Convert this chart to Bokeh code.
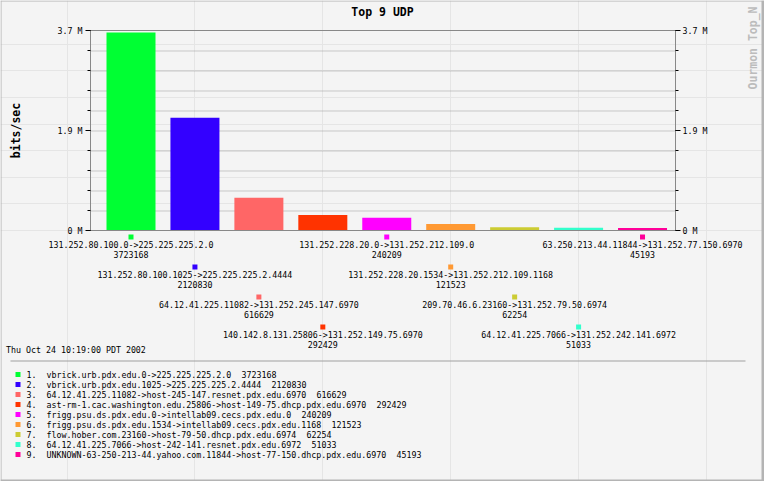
import math
from bokeh.plotting import figure
from bokeh.models import ColumnDataSource, Range1d, FixedTicker, LinearAxis
from bokeh.core.properties import value
from bokeh.embed import file_html
from bokeh.resources import INLINE

# ---------------- data ----------------
chart_title = "Top 9 UDP"
y_label = "bits/sec"
side_note = "Ourmon Top_N"
timestamp = "Thu Oct 24 10:19:00 PDT 2002"

flows = [
    "131.252.80.100.0->225.225.225.2.0",
    "131.252.80.100.1025->225.225.225.2.4444",
    "64.12.41.225.11082->131.252.245.147.6970",
    "140.142.8.131.25806->131.252.149.75.6970",
    "131.252.228.20.0->131.252.212.109.0",
    "131.252.228.20.1534->131.252.212.109.1168",
    "209.70.46.6.23160->131.252.79.50.6974",
    "64.12.41.225.7066->131.252.242.141.6972",
    "63.250.213.44.11844->131.252.77.150.6970",
]
hosts = [
    "vbrick.urb.pdx.edu.0->225.225.225.2.0",
    "vbrick.urb.pdx.edu.1025->225.225.225.2.4444",
    "64.12.41.225.11082->host-245-147.resnet.pdx.edu.6970",
    "ast-rm-1.cac.washington.edu.25806->host-149-75.dhcp.pdx.edu.6970",
    "frigg.psu.ds.pdx.edu.0->intellab09.cecs.pdx.edu.0",
    "frigg.psu.ds.pdx.edu.1534->intellab09.cecs.pdx.edu.1168",
    "flow.hober.com.23160->host-79-50.dhcp.pdx.edu.6974",
    "64.12.41.225.7066->host-242-141.resnet.pdx.edu.6972",
    "UNKNOWN-63-250-213-44.yahoo.com.11844->host-77-150.dhcp.pdx.edu.6970",
]
bits = [3723168, 2120830, 616629, 292429, 240209, 121523, 62254, 51033, 45193]
colors = ["#00ff33", "#3300ff", "#ff6666", "#ff3300", "#ff00ff",
          "#ff9933", "#cccc33", "#33ffcc", "#ff0099"]
y_max = 3760000
y_ticks = [0, 1880000, 3760000]
y_tick_labels = ["0 M", "1.9 M", "3.7 M"]

# ---------------- layout constants (pixels) ----------------
W, H = 764, 481
PL, PR, PT, PB = 90, 675, 30, 230      # plot area inside the canvas
BG = "#f4f4f4"
FRAME = "#888888"
MONO = "DejaVu Sans Mono"
SMALL = "8.3px"
BIG = "11.5px"

n = len(bits)
idx = list(range(1, n + 1))
slot_px = 63.94
first_center_px = 130.5
bar_w = 49 / slot_px

def px_to_x(px):
    return 1 + (px - first_center_px) / slot_px

def px_to_y(py):
    return (PB - py) / (PB - PT) * y_max

x_left, x_right = px_to_x(PL), px_to_x(PR)
half_px = y_max / (PB - PT) * 0.5

p = figure(width=W, height=H, output_backend="svg", toolbar_location=None,
           x_range=Range1d(px_to_x(0), px_to_x(W)),
           y_range=Range1d(px_to_y(H), px_to_y(0)),
           x_axis_location=None, y_axis_location=None,
           min_border=0, min_border_left=0, min_border_right=0,
           min_border_top=0, min_border_bottom=0,
           background_fill_color=BG, border_fill_color=BG,
           outline_line_color=None)
p.title.visible = False
p.extra_x_ranges = {"px": Range1d(0, W)}
p.extra_y_ranges = {"px": Range1d(H, 0)}
PX = dict(x_range_name="px", y_range_name="px")

# outer gray frame of the image
p.quad(left=[0, 0, 761, 0], right=[1, W, W, W], top=[0, 0, 0, 479],
       bottom=[H, 1, H, H], fill_color="#b4b4b4", line_color=None, **PX)

# dotted grid (drawn on pixel rows)
minor = [y_max * k / 10 for k in range(1, 10)]
grid_y = [m - half_px for m in minor]
p.segment(x0=[x_left] * len(minor), x1=[x_right] * len(minor), y0=grid_y, y1=grid_y,
          line_color="#9a9a9a", line_width=1, line_dash="1 1")

# bars
src = ColumnDataSource(dict(x=idx, bits=bits, color=colors))
p.vbar(x="x", top="bits", bottom=0, width=bar_w, fill_color="color",
       line_color=None, source=src)

# plot-area box
p.quad(left=[x_left], right=[x_right], bottom=[0], top=[y_max],
       fill_color=None, line_color=FRAME, line_width=1)

def make_axis(loc, standoff):
    ax = LinearAxis(fixed_location=loc, bounds=(0, y_max))
    ax.ticker = FixedTicker(ticks=y_ticks, minor_ticks=[0] + minor + [y_max])
    ax.major_label_overrides = dict(zip(y_ticks, y_tick_labels))
    ax.axis_line_color = FRAME
    ax.major_tick_line_color = "black"
    ax.minor_tick_line_color = "black"
    ax.major_tick_out = 5
    ax.major_tick_in = 0
    ax.minor_tick_out = 3
    ax.minor_tick_in = 0
    ax.major_label_standoff = standoff
    ax.major_label_text_font = MONO
    ax.major_label_text_font_size = SMALL
    ax.major_label_text_color = "black"
    return ax

p.add_layout(make_axis(x_left, 3), "left")
p.add_layout(make_axis(x_right, 2), "right")

# labels under the bars (4 staggered rows)
rows = [i % 4 for i in range(n)]
lab_src = ColumnDataSource(dict(
    x=idx, flow=flows, val=[str(b) for b in bits], color=colors,
    y_mark=[236.5 + 30 * r for r in rows],
    y_flow=[244 + 30 * r for r in rows],
    y_val=[254 + 30 * r for r in rows]))
txt = dict(text_font=value(MONO), text_font_size=value(SMALL), text_color="black",
           text_baseline="middle")
p.rect(x="x", y="y_mark", width=5, height=5, width_units="screen",
       height_units="screen", fill_color="color", line_color=None,
       source=lab_src, y_range_name="px")
p.text(x="x", y="y_flow", text="flow", text_align="center", source=lab_src,
       y_range_name="px", **txt)
p.text(x="x", y="y_val", text="val", text_align="center", source=lab_src,
       y_range_name="px", **txt)

# legend block
leg_y = [374 + 10 * k for k in range(n)]
leg_src = ColumnDataSource(dict(
    num=[f"{k + 1}." for k in range(n)], name=hosts, val=[str(b) for b in bits],
    y=leg_y, color=colors, xm=[17.5] * n, xn=[26] * n, xh=[46] * n,
    xv=[46 + 5 * (len(h) + 2) for h in hosts]))
p.rect(x="xm", y="y", width=5, height=5, fill_color="color", line_color=None,
       source=leg_src, **PX)
for col in ("num", "name", "val"):
    xcol = {"num": "xn", "name": "xh", "val": "xv"}[col]
    p.text(x=xcol, y="y", text=col, text_align="left", source=leg_src, **PX, **txt)

# separator line
p.segment(x0=[10], x1=[745], y0=[360.5], y1=[360.5], line_color="#a0a0a0",
          line_width=1, **PX)

# single texts
p.text(x=[382], y=[11], text=[chart_title], text_align="center",
       text_baseline="middle", text_font=value(MONO), text_font_style="bold",
       text_font_size=value(BIG), text_color="black", **PX)
p.text(x=[15], y=[130], text=[y_label], angle=math.pi / 2, text_align="center",
       text_baseline="middle", text_font=value(MONO), text_font_style="bold",
       text_font_size=value(BIG), text_color="black", **PX)
p.text(x=[752.5], y=[47.5], text=[side_note], angle=math.pi / 2, text_align="center",
       text_baseline="middle", text_font=value(MONO), text_font_style="bold",
       text_font_size=value(BIG), text_color="#bcbcbc", **PX)
p.text(x=[5.5], y=[349], text=[timestamp], text_align="left", **PX, **txt)

open("out.html", "w").write(file_html(p, INLINE))
